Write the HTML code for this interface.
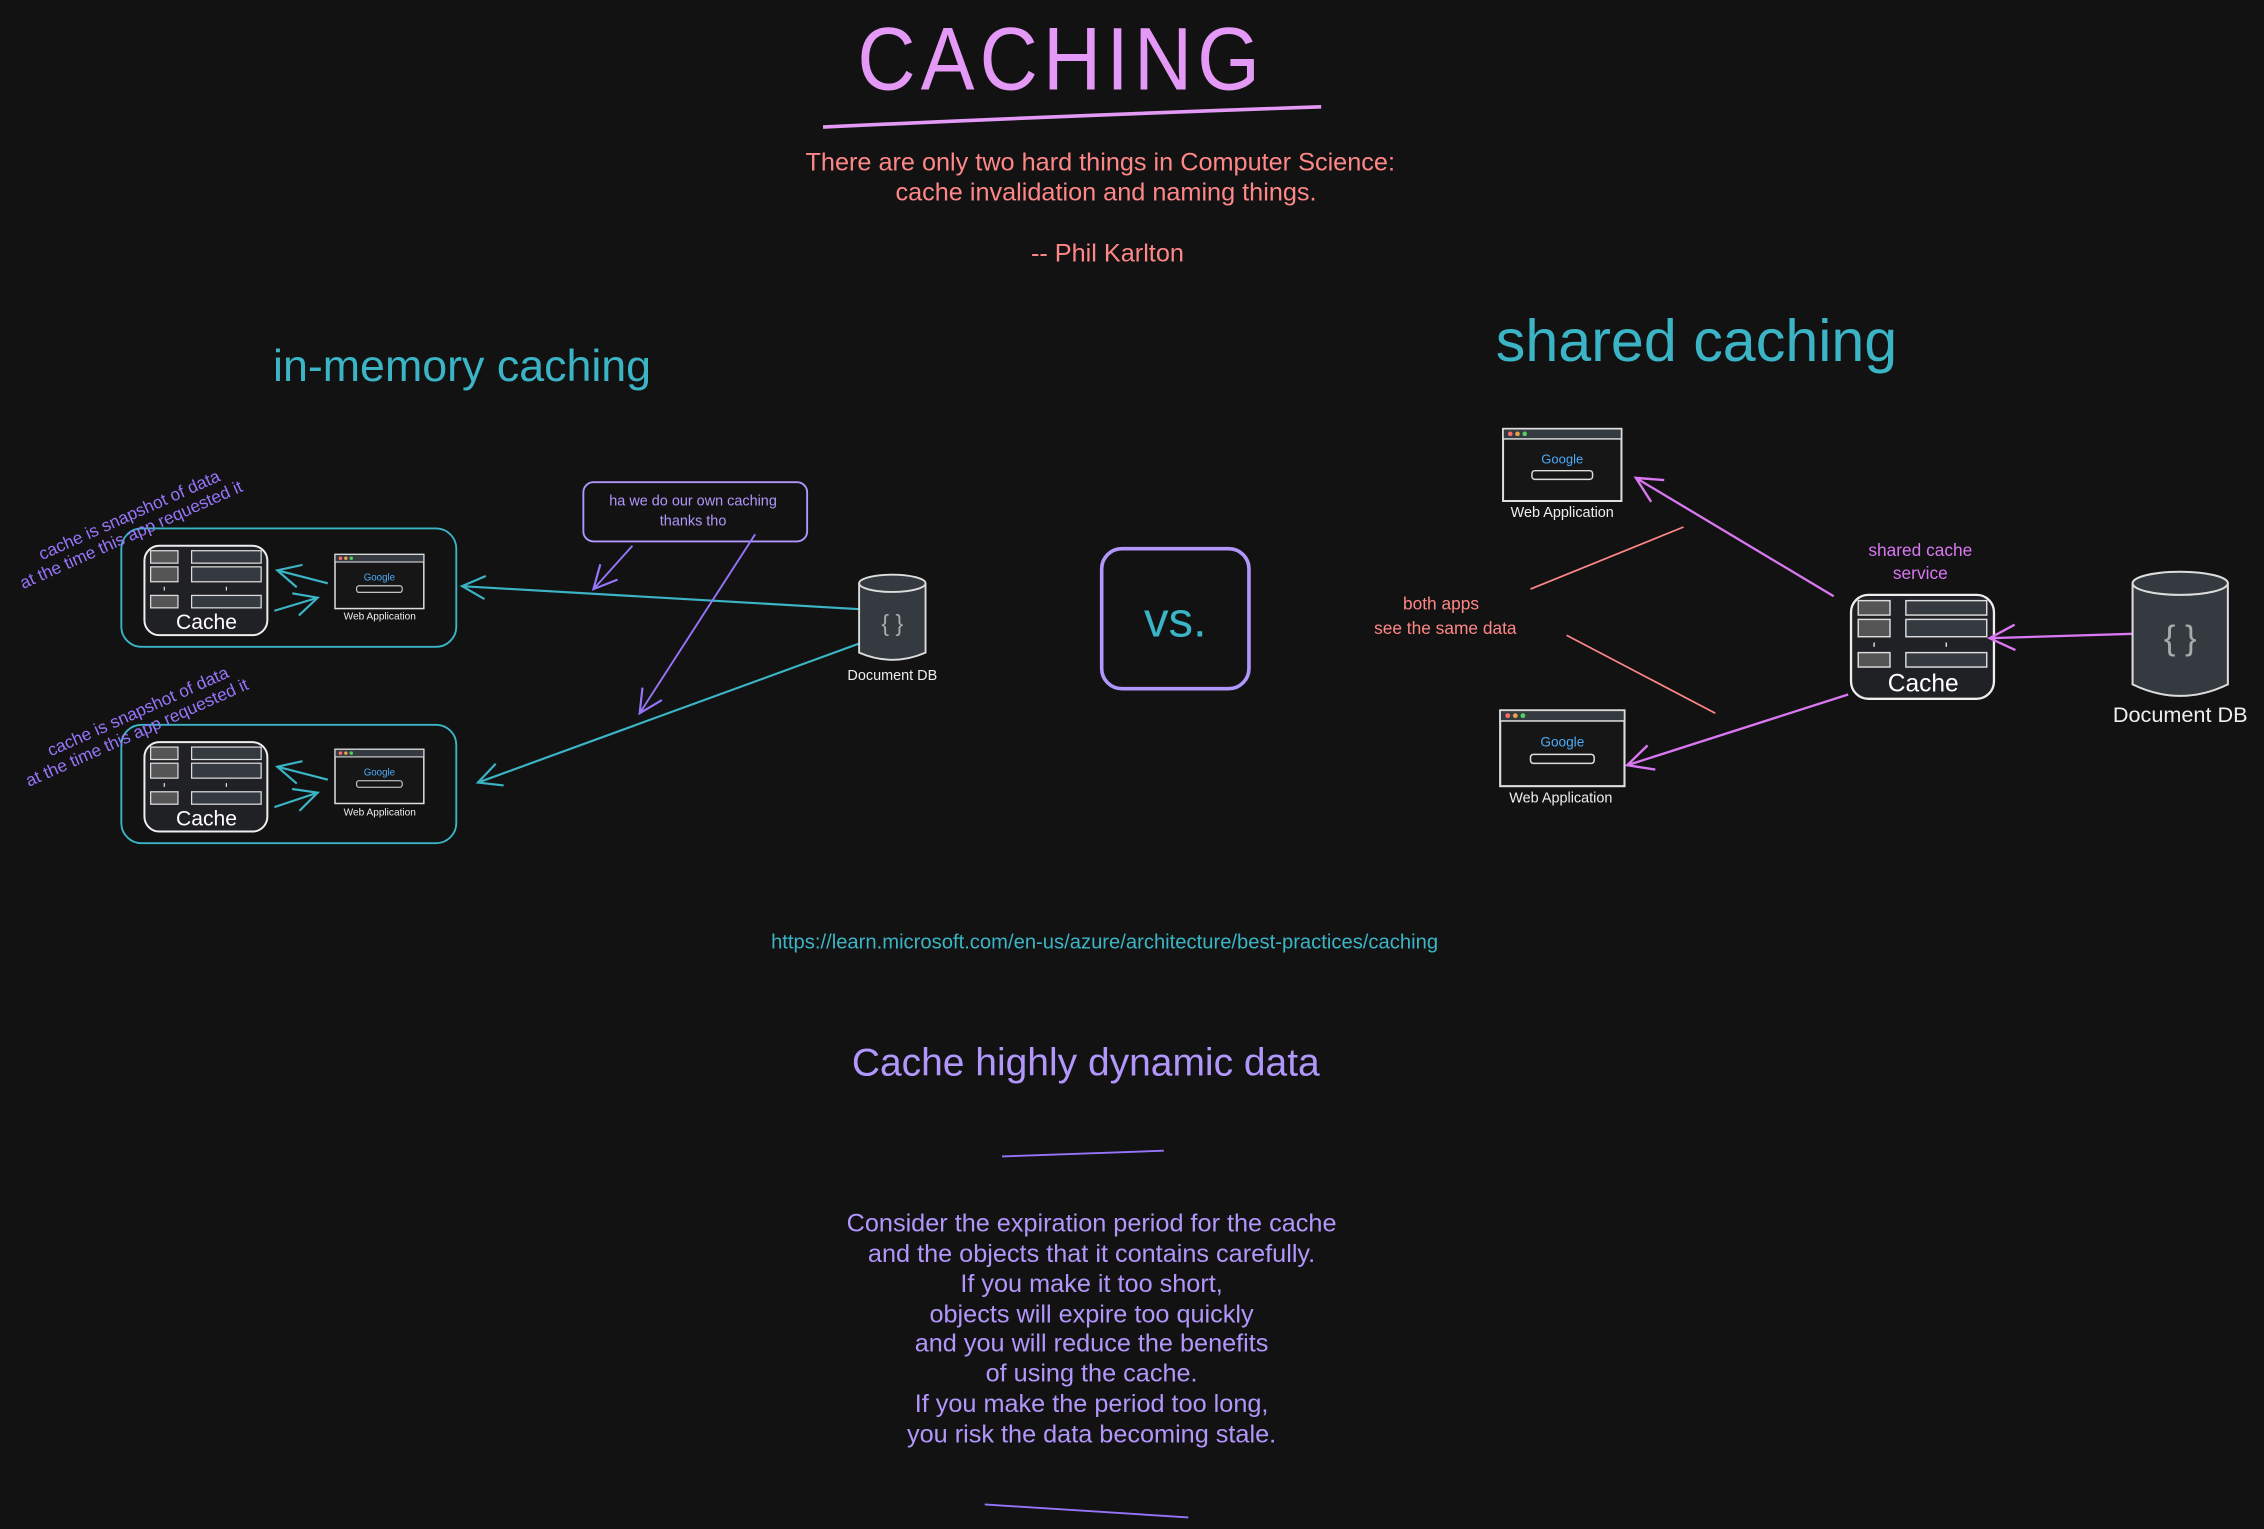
<!DOCTYPE html>
<html><head><meta charset="utf-8"><style>
html,body{margin:0;padding:0;background:#121212;}
svg{display:block;}
text{font-family:"Liberation Sans",sans-serif;}
</style></head><body>
<svg width="2264" height="1529" viewBox="0 0 1568 1059" xmlns="http://www.w3.org/2000/svg">
<rect width="1568" height="1059" fill="#121212"/>
<defs>
<marker id="at" viewBox="0 0 20 20" refX="18" refY="10" markerWidth="20" markerHeight="20" markerUnits="userSpaceOnUse" orient="auto">
<path d="M2 2 L18 10 L2 18" fill="none" stroke="#3bb5c6" stroke-width="1.5"/>
</marker>
<marker id="ap" viewBox="0 0 20 20" refX="18" refY="10" markerWidth="20" markerHeight="20" markerUnits="userSpaceOnUse" orient="auto">
<path d="M2 2 L18 10 L2 18" fill="none" stroke="#9775fa" stroke-width="1.5"/>
</marker>
<marker id="am" viewBox="0 0 20 20" refX="18" refY="10" markerWidth="22" markerHeight="22" markerUnits="userSpaceOnUse" orient="auto">
<path d="M2 2 L18 10 L2 18" fill="none" stroke="#da77f2" stroke-width="1.5"/>
</marker>
</defs>

<!-- Title -->
<text x="735" y="62" font-size="62" fill="#e599f7" text-anchor="middle" font-weight="300" letter-spacing="4" transform="translate(735 62) scale(0.9 1) translate(-735 -62)">CACHING</text>
<path d="M570 88 Q740 80 915 74" stroke="#e599f7" stroke-width="2.5" fill="none"/>
<g fill="#ff8787" font-size="17.5" text-anchor="middle">
<text x="762" y="118">There are only two hard things in Computer Science:</text>
<text x="766" y="139">cache invalidation and naming things.</text>
<text x="767" y="181">-- Phil Karlton</text>
</g>

<text x="320" y="264" font-size="31" fill="#3bb5c6" text-anchor="middle">in-memory caching</text>
<text x="1175" y="250" font-size="41" fill="#3bb5c6" text-anchor="middle">shared caching</text>

<!-- Left boxes -->
<rect x="84" y="366" width="232" height="82" rx="14" fill="none" stroke="#3bb5c6" stroke-width="1.3"/>
<rect x="84" y="502" width="232" height="82" rx="14" fill="none" stroke="#3bb5c6" stroke-width="1.3"/>

<g transform="translate(100 378) scale(0.86)">
<rect x="0" y="0" width="99" height="72" rx="12" fill="#202124" stroke="#eee" stroke-width="1.6"/>
<rect x="5" y="4" width="22" height="10" fill="#555" stroke="#ddd"/><rect x="38" y="4" width="56" height="10" fill="#343a40" stroke="#ddd"/>
<rect x="5" y="17" width="22" height="12" fill="#555" stroke="#ddd"/><rect x="38" y="17" width="56" height="12" fill="#343a40" stroke="#ddd"/>
<path d="M16 33 V36 M66 33 V36" stroke="#ddd"/>
<rect x="5" y="40" width="22" height="10" fill="#555" stroke="#ddd"/><rect x="38" y="40" width="56" height="10" fill="#343a40" stroke="#ddd"/>
<text x="50" y="67" font-size="17" fill="#fff" text-anchor="middle">Cache</text>
</g>
<g transform="translate(100 514) scale(0.86)">
<rect x="0" y="0" width="99" height="72" rx="12" fill="#202124" stroke="#eee" stroke-width="1.6"/>
<rect x="5" y="4" width="22" height="10" fill="#555" stroke="#ddd"/><rect x="38" y="4" width="56" height="10" fill="#343a40" stroke="#ddd"/>
<rect x="5" y="17" width="22" height="12" fill="#555" stroke="#ddd"/><rect x="38" y="17" width="56" height="12" fill="#343a40" stroke="#ddd"/>
<path d="M16 33 V36 M66 33 V36" stroke="#ddd"/>
<rect x="5" y="40" width="22" height="10" fill="#555" stroke="#ddd"/><rect x="38" y="40" width="56" height="10" fill="#343a40" stroke="#ddd"/>
<text x="50" y="67" font-size="17" fill="#fff" text-anchor="middle">Cache</text>
</g>
<g transform="translate(1282 412)">
<rect x="0" y="0" width="99" height="72" rx="12" fill="#202124" stroke="#eee" stroke-width="1.6"/>
<rect x="5" y="4" width="22" height="10" fill="#555" stroke="#ddd"/><rect x="38" y="4" width="56" height="10" fill="#343a40" stroke="#ddd"/>
<rect x="5" y="17" width="22" height="12" fill="#555" stroke="#ddd"/><rect x="38" y="17" width="56" height="12" fill="#343a40" stroke="#ddd"/>
<path d="M16 33 V36 M66 33 V36" stroke="#ddd"/>
<rect x="5" y="40" width="22" height="10" fill="#555" stroke="#ddd"/><rect x="38" y="40" width="56" height="10" fill="#343a40" stroke="#ddd"/>
<text x="50" y="67" font-size="17" fill="#fff" text-anchor="middle">Cache</text>
</g>

<!-- web apps -->
<g transform="translate(232 384) scale(0.75)">
<rect x="0" y="0" width="82" height="50" fill="#161616" stroke="#ddd" stroke-width="1.4"/>
<rect x="0" y="0" width="82" height="7" fill="#343a40" stroke="#ddd"/>
<circle cx="5" cy="3.5" r="1.6" fill="#ff6b6b"/><circle cx="10" cy="3.5" r="1.6" fill="#e8a04a"/><circle cx="15" cy="3.5" r="1.6" fill="#51cf66"/>
<text x="41" y="24" font-size="9" fill="#4dabf7" text-anchor="middle">Google</text>
<rect x="20" y="29" width="42" height="6" rx="2" fill="none" stroke="#ddd"/>
</g>
<text x="263" y="429" font-size="7" fill="#eee" text-anchor="middle">Web Application</text>
<g transform="translate(232 519) scale(0.75)">
<rect x="0" y="0" width="82" height="50" fill="#161616" stroke="#ddd" stroke-width="1.4"/>
<rect x="0" y="0" width="82" height="7" fill="#343a40" stroke="#ddd"/>
<circle cx="5" cy="3.5" r="1.6" fill="#ff6b6b"/><circle cx="10" cy="3.5" r="1.6" fill="#e8a04a"/><circle cx="15" cy="3.5" r="1.6" fill="#51cf66"/>
<text x="41" y="24" font-size="9" fill="#4dabf7" text-anchor="middle">Google</text>
<rect x="20" y="29" width="42" height="6" rx="2" fill="none" stroke="#ddd"/>
</g>
<text x="263" y="565" font-size="7" fill="#eee" text-anchor="middle">Web Application</text>
<g transform="translate(1041 297)">
<rect x="0" y="0" width="82" height="50" fill="#161616" stroke="#ddd" stroke-width="1.4"/>
<rect x="0" y="0" width="82" height="7" fill="#343a40" stroke="#ddd"/>
<circle cx="5" cy="3.5" r="1.6" fill="#ff6b6b"/><circle cx="10" cy="3.5" r="1.6" fill="#e8a04a"/><circle cx="15" cy="3.5" r="1.6" fill="#51cf66"/>
<text x="41" y="24" font-size="9" fill="#4dabf7" text-anchor="middle">Google</text>
<rect x="20" y="29" width="42" height="6" rx="2" fill="none" stroke="#ddd"/>
</g>
<text x="1082" y="358" font-size="10" fill="#eee" text-anchor="middle">Web Application</text>
<g transform="translate(1039 492) scale(1.05)">
<rect x="0" y="0" width="82" height="50" fill="#161616" stroke="#ddd" stroke-width="1.4"/>
<rect x="0" y="0" width="82" height="7" fill="#343a40" stroke="#ddd"/>
<circle cx="5" cy="3.5" r="1.6" fill="#ff6b6b"/><circle cx="10" cy="3.5" r="1.6" fill="#e8a04a"/><circle cx="15" cy="3.5" r="1.6" fill="#51cf66"/>
<text x="41" y="24" font-size="9" fill="#4dabf7" text-anchor="middle">Google</text>
<rect x="20" y="29" width="42" height="6" rx="2" fill="none" stroke="#ddd"/>
</g>
<text x="1081" y="556" font-size="10" fill="#eee" text-anchor="middle">Web Application</text>

<!-- arrows -->
<g stroke="#3bb5c6" stroke-width="1.5" fill="none">
<path d="M227 404 L192 395" marker-end="url(#at)"/>
<path d="M190 423 L220 414" marker-end="url(#at)"/>
<path d="M227 540 L192 531" marker-end="url(#at)"/>
<path d="M190 559 L220 549" marker-end="url(#at)"/>
<path d="M597 422 L320 406" marker-end="url(#at)"/>
<path d="M597 445 L331 542" marker-end="url(#at)"/>
</g>

<!-- left doc DB -->
<path d="M595 404 V452 Q618 462 641 452 V404" fill="#343a40" stroke="#ddd" stroke-width="1.3"/>
<ellipse cx="618" cy="404" rx="23" ry="6" fill="#343a40" stroke="#ddd" stroke-width="1.3"/>
<text x="618" y="437" font-size="16" fill="#aaa" text-anchor="middle">{ }</text>
<text x="618" y="471" font-size="10" fill="#eee" text-anchor="middle">Document DB</text>

<!-- callout -->
<rect x="404" y="334" width="155" height="41" rx="7" fill="none" stroke="#b197fc" stroke-width="1.3"/>
<text x="480" y="350" font-size="10" fill="#b197fc" text-anchor="middle">ha we do our own caching</text>
<text x="480" y="364" font-size="10" fill="#b197fc" text-anchor="middle">thanks tho</text>
<g stroke="#9775fa" stroke-width="1.3" fill="none">
<path d="M438 378 L411 408" marker-end="url(#ap)"/>
<path d="M523 370 L443 494" marker-end="url(#ap)"/>
</g>

<!-- rotated notes -->
<g fill="#9775fa" font-size="12">
<text transform="translate(29 388) rotate(-24)">cache is snapshot of data</text>
<text transform="translate(16 408) rotate(-24)">at the time this app requested it</text>
<text transform="translate(35 524) rotate(-24)">cache is snapshot of data</text>
<text transform="translate(20 545) rotate(-24)">at the time this app requested it</text>
</g>

<!-- vs -->
<rect x="763" y="380" width="102" height="97" rx="14" fill="none" stroke="#b197fc" stroke-width="2.5"/>
<text x="814" y="441" font-size="34" fill="#3bb5c6" text-anchor="middle">vs.</text>

<!-- right side -->
<text x="1330" y="385" font-size="12" fill="#da77f2" text-anchor="middle">shared cache</text>
<text x="1330" y="401" font-size="12" fill="#da77f2" text-anchor="middle">service</text>
<g stroke="#da77f2" stroke-width="1.6" fill="none">
<path d="M1270 413 L1133 331" marker-end="url(#am)"/>
<path d="M1280 481 L1127 530" marker-end="url(#am)"/>
<path d="M1477 439 L1378 442" marker-end="url(#am)"/>
</g>
<path d="M1477 404 V474 Q1510 490 1543 474 V404" fill="#343a40" stroke="#ddd" stroke-width="1.4"/>
<ellipse cx="1510" cy="404" rx="33" ry="8" fill="#343a40" stroke="#ddd" stroke-width="1.4"/>
<text x="1510" y="450" font-size="24" fill="#aaa" text-anchor="middle">{ }</text>
<text x="1510" y="500" font-size="15" fill="#eee" text-anchor="middle">Document DB</text>
<g stroke="#ff8787" stroke-width="1.2">
<line x1="1060" y1="408" x2="1166" y2="365"/>
<line x1="1085" y1="440" x2="1188" y2="494"/>
</g>
<text x="998" y="422" font-size="12" fill="#ff8787" text-anchor="middle">both apps</text>
<text x="1001" y="439" font-size="12" fill="#ff8787" text-anchor="middle">see the same data</text>

<!-- bottom -->
<text x="765" y="657" font-size="14" fill="#3bb5c6" text-anchor="middle">https://learn.microsoft.com/en-us/azure/architecture/best-practices/caching</text>
<text x="752" y="745" font-size="27" fill="#b197fc" text-anchor="middle">Cache highly dynamic data</text>
<line x1="694" y1="801" x2="806" y2="797" stroke="#9775fa" stroke-width="1.3"/>
<g fill="#b197fc" font-size="17.5" text-anchor="middle">
<text x="756" y="853">Consider the expiration period for the cache</text>
<text x="756" y="874">and the objects that it contains carefully.</text>
<text x="756" y="895">If you make it too short,</text>
<text x="756" y="916">objects will expire too quickly</text>
<text x="756" y="936">and you will reduce the benefits</text>
<text x="756" y="957">of using the cache.</text>
<text x="756" y="978">If you make the period too long,</text>
<text x="756" y="999">you risk the data becoming stale.</text>
</g>
<line x1="682" y1="1042" x2="823" y2="1051" stroke="#9775fa" stroke-width="1.3"/>
</svg>
</body></html>
